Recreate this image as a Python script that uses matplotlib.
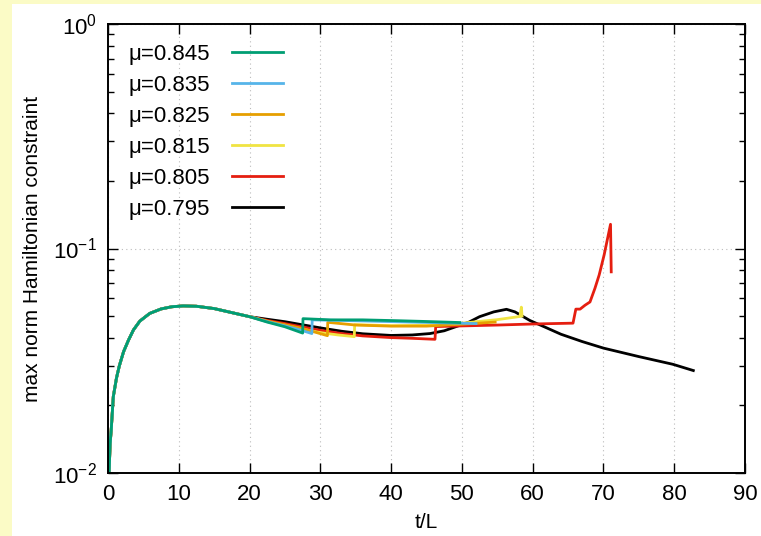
import matplotlib.pyplot as plt
from matplotlib.patches import Rectangle
from matplotlib.ticker import LogLocator, NullFormatter

plt.rcParams['font.family'] = ['Liberation Sans', 'DejaVu Sans']

# shared early part (all runs overlap here)
t_early = [0.15, 0.3, 0.45, 0.75, 1.2, 1.6, 2.2, 2.9, 3.6, 4.5, 5.9, 7.5, 9.0,
           10.6, 12.5, 15.0, 17.5, 20.0]
h_early = [0.0100, 0.0135, 0.0155, 0.0219, 0.0265, 0.0300, 0.0347, 0.0391,
           0.0434, 0.0475, 0.0514, 0.0538, 0.0550, 0.0555, 0.0553, 0.0540,
           0.0518, 0.0497]

t_845 = [22.5, 25.0, 27.5, 27.55, 31.4, 36.0, 40.8, 45.0, 49.7]
h_845 = [0.0470, 0.0448, 0.0420, 0.0487, 0.0481, 0.0481, 0.0477, 0.0473, 0.0468]

t_835 = [22.5, 25.0, 27.0, 28.8, 28.85, 33.0, 38.0, 43.0, 48.0, 52.0]
h_835 = [0.0472, 0.0452, 0.0435, 0.0418, 0.0481, 0.0478, 0.0474, 0.0470,
         0.0466, 0.0463]

t_825 = [22.5, 25.0, 27.5, 29.5, 31.0, 31.05, 35.0, 40.0, 45.0, 50.0, 54.7]
h_825 = [0.0475, 0.0458, 0.0440, 0.0422, 0.0409, 0.0469, 0.0456, 0.0451,
         0.0451, 0.0460, 0.0470]

t_815 = [22.5, 25.0, 27.5, 30.0, 32.5, 34.8, 34.85, 40.0, 45.0, 50.0, 55.0,
         58.2, 58.4, 58.5]
h_815 = [0.0473, 0.0455, 0.0437, 0.0422, 0.0412, 0.0405, 0.0458, 0.0453,
         0.0455, 0.0465, 0.0482, 0.0498, 0.0548, 0.0500]

t_805 = [22.5, 25.0, 27.5, 30.0, 33.0, 36.0, 40.0, 43.0, 46.2, 46.3, 50.0,
         55.0, 60.0, 65.7, 66.1, 66.7, 67.4, 68.1, 68.8, 69.4, 70.1, 71.0, 71.1]
h_805 = [0.0478, 0.0463, 0.0447, 0.0432, 0.0418, 0.0408, 0.0401, 0.0398,
         0.0394, 0.0449, 0.0452, 0.0456, 0.0461, 0.0465, 0.0537, 0.0537,
         0.0559, 0.0578, 0.0665, 0.0763, 0.0937, 0.1282, 0.0787]

t_795 = [22.5, 25.0, 27.0, 30.0, 33.0, 36.0, 40.0, 43.0, 45.5, 47.5, 49.2,
         51.0, 52.5, 54.5, 56.3, 57.5, 59.6, 61.5, 64.0, 67.0, 70.0, 75.0,
         79.8, 82.7]
h_795 = [0.0484, 0.0472, 0.0460, 0.0443, 0.0428, 0.0417, 0.0410, 0.0412,
         0.0418, 0.0430, 0.0449, 0.0470, 0.0497, 0.0522, 0.0536, 0.0522,
         0.0478, 0.0450, 0.0415, 0.0385, 0.0360, 0.0330, 0.0305, 0.0286]

labels = ['μ=0.845', 'μ=0.835', 'μ=0.825', 'μ=0.815', 'μ=0.805', 'μ=0.795']
colors = ['#009e73', '#56b4e9', '#e69f00', '#f0e442', '#e51e10', 'black']
tails_t = [t_845, t_835, t_825, t_815, t_805, t_795]
tails_h = [h_845, h_835, h_825, h_815, h_805, h_795]

fig = plt.figure(figsize=(7.61, 5.36), dpi=100, facecolor='#fbfbc6')
fig.patches.append(Rectangle((12 / 761, 0), 1, 1 - 4 / 536, transform=fig.transFigure,
                             facecolor='white', edgecolor='none', zorder=-10))
ax = fig.add_axes([108 / 761, 1 - 473 / 536, 637 / 761, 449 / 536])

handles = [None] * 6
# draw black first so green ends up on top
for i in reversed(range(6)):
    line, = ax.plot(t_early + tails_t[i], h_early + tails_h[i], color=colors[i],
                    lw=2.0, label=labels[i])
    handles[i] = line

ax.set_yscale('log')
ax.set_xlim(0, 90)
ax.set_ylim(0.01, 1)
ax.set_xticks(range(0, 91, 10))
ax.yaxis.set_major_locator(LogLocator(base=10, numticks=5))
ax.yaxis.set_minor_locator(LogLocator(base=10, subs=range(2, 10), numticks=20))
ax.yaxis.set_minor_formatter(NullFormatter())

ax.tick_params(which='both', direction='in', top=True, right=True, labelsize=16,
               width=1, pad=8)
ax.tick_params(which='major', length=7)
ax.tick_params(which='minor', length=4)
for s in ax.spines.values():
    s.set_linewidth(1.4)

ax.grid(True, which='major', color='#bbbbbb', linestyle=(0, (1, 3)), lw=0.8)

ax.set_xlabel('t/L', fontsize=15, labelpad=6)
ax.set_ylabel('max norm Hamiltonian constraint', fontsize=15, labelpad=8)

ax.legend(handles=handles, loc='upper left', frameon=False, markerfirst=False,
          fontsize=16, handlelength=2.3, labelspacing=0.45, handletextpad=1.0,
          bbox_to_anchor=(0.0, 1.0), borderaxespad=0.5)

fig.savefig('out.png', dpi=100, facecolor=fig.get_facecolor())
